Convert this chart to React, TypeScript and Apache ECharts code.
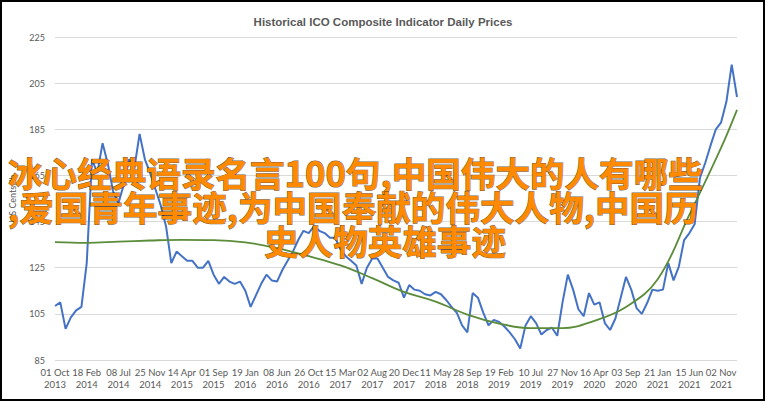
import { useEffect, useRef } from 'react';
import * as echarts from 'echarts';

const chartTitle = 'Historical ICO Composite Indicator Daily Prices';
const yAxisName = 'US Cents/lb';

const tickLabels = [
  '01 Oct\n2013', '18 Feb\n2014', '08 Jul\n2014', '25 Nov\n2014', '14 Apr\n2015', '01 Sep\n2015',
  '19 Jan\n2016', '08 Jun\n2016', '26 Oct\n2016', '15 Mar\n2017', '02 Aug\n2017', '20 Dec\n2017',
  '11 May\n2018', '28 Sep\n2018', '19 Feb\n2019', '10 Jul\n2019', '27 Nov\n2019', '16 Apr\n2020',
  '03 Sep\n2020', '21 Jan\n2021', '15 Jun\n2021', '02 Nov\n2021',
];

// samples per label interval
const samplesPerTick = 6;

const dailyPrices = [
  108.4, 110, 98.5, 103.5, 106.5, 108, 127, 172, 166, 179,
  170, 158, 153, 161, 172, 168, 183, 172, 166, 159,
  152, 143, 127, 132, 130, 128, 128, 125, 125, 128,
  122, 118, 121, 119, 118, 119, 115, 108, 113, 118,
  122, 119.5, 119, 124, 128, 132, 137, 141, 140, 143,
  141, 140, 138, 138, 133, 130, 128, 126, 118, 125,
  129, 129, 125, 121, 119.5, 118.5, 112, 117.5, 115.5, 115,
  113.5, 113, 114.5, 113.5, 111, 108, 105.5, 100, 97, 114,
  112, 105.5, 100, 102.4, 101.5, 99.5, 97, 94, 90, 100,
  104, 101, 96, 98, 99, 95.5, 110, 122, 115.5, 107,
  104, 114, 109, 110, 101, 98, 103, 112, 121, 115.5,
  107.5, 105, 109.7, 115.5, 115, 115.5, 127, 119.5, 125.5, 137,
  140, 144, 164, 170.5, 178, 185, 188, 197, 213, 199,
];

const trendPositions = [0, 1, 2, 3, 4, 5, 6, 7, 8, 9, 10, 11, 12, 13, 14, 15, 16, 17, 18, 19, 20, 21, 21.5];
const trendValues = [
  136.1, 135.8, 136.3, 136.8, 137.1, 137, 136, 133.5, 130, 126,
  120.5, 114.5, 110.3, 104.7, 100.8, 98.8, 98.8, 102, 108, 120,
  148, 177, 193.4,
];

const overlayLines = [
  '冰心经典语录名言100句,中国伟大的人有哪些',
  ',爱国青年事迹,为中国奉献的伟大人物,中国历',
  '史人物英雄事迹',
];

const yMin = 85;
const yMax = 225;
const yStep = 20;

export default function App() {
  const ref = useRef<HTMLDivElement>(null);

  useEffect(() => {
    document.body.style.margin = '0';
    if (!ref.current) return;
    const chart = echarts.init(ref.current, undefined, { renderer: 'svg' });

    const priceData = dailyPrices.map((v, i) => [i / samplesPerTick, v]);
    const trendData = trendValues.map((v, i) => [trendPositions[i], v]);
    const xMax = (dailyPrices.length - 1) / samplesPerTick;

    const overlayStyle = {
      fill: '#ff8a00',
      stroke: 'rgba(60,30,0,0.75)',
      lineWidth: 1,
      fontSize: 34.6,
      fontWeight: 'bold',
      fontFamily: '"Noto Sans CJK SC", sans-serif',
      verticalAlign: 'middle',
      textVerticalAlign: 'middle',
    };

    chart.setOption({
      animation: false,
      backgroundColor: '#ffffff',
      title: {
        text: chartTitle,
        left: 'center',
        top: 11,
        textStyle: {
          fontFamily: '"Liberation Sans Narrow", sans-serif',
          fontSize: 11.5,
          fontWeight: 'bold',
          color: '#595959',
        },
      },
      grid: { left: 54, right: 29, top: 37, bottom: 42 },
      xAxis: {
        type: 'value',
        min: 0,
        max: xMax,
        interval: 1,
        axisLine: { show: false },
        axisTick: { show: false },
        splitLine: { show: false },
        axisLabel: {
          color: '#595959',
          fontFamily: 'Lato, sans-serif',
          fontSize: 9.5,
          lineHeight: 11.5,
          margin: 7,
          showMaxLabel: false,
          formatter: (v: number) => (Number.isInteger(v) && tickLabels[v] ? tickLabels[v] : ''),
        },
      },
      yAxis: {
        type: 'value',
        min: yMin,
        max: yMax,
        interval: yStep,
        name: yAxisName,
        nameLocation: 'middle',
        nameRotate: 90,
        nameGap: 38,
        nameTextStyle: { color: '#595959', fontFamily: 'Lato, sans-serif', fontSize: 9 },
        axisLine: { show: false },
        axisTick: { show: false },
        splitLine: { lineStyle: { color: '#d9d9d9', width: 1 } },
        axisLabel: {
          color: '#595959',
          fontFamily: 'Lato, sans-serif',
          fontSize: 9,
          margin: 10,
        },
      },
      series: [
        {
          type: 'line',
          name: 'Daily price',
          data: priceData,
          showSymbol: false,
          lineStyle: { color: '#4472c4', width: 2 },
          itemStyle: { color: '#4472c4' },
          z: 2,
        },
        {
          type: 'line',
          name: 'Trend',
          data: trendData,
          smooth: 0.4,
          showSymbol: false,
          lineStyle: { color: '#5b8c3a', width: 1.8 },
          itemStyle: { color: '#5b8c3a' },
          z: 3,
        },
      ],
      graphic: [
        {
          type: 'rect',
          shape: { x: 1, y: 1, width: 763, height: 399 },
          style: { fill: 'none', stroke: '#000000', lineWidth: 2 },
          z: 100,
        },
        {
          type: 'text',
          x: 8,
          y: 172,
          z: 110,
          style: { ...overlayStyle, text: overlayLines[0], align: 'left', textAlign: 'left' },
        },
        {
          type: 'text',
          x: 8,
          y: 206,
          z: 110,
          style: { ...overlayStyle, text: overlayLines[1], align: 'left', textAlign: 'left' },
        },
        {
          type: 'text',
          x: 385,
          y: 240,
          z: 110,
          style: { ...overlayStyle, text: overlayLines[2], align: 'center', textAlign: 'center' },
        },
      ],
    });

    return () => chart.dispose();
  }, []);

  return <div ref={ref} style={{ width: 766, height: 402 }} />;
}
